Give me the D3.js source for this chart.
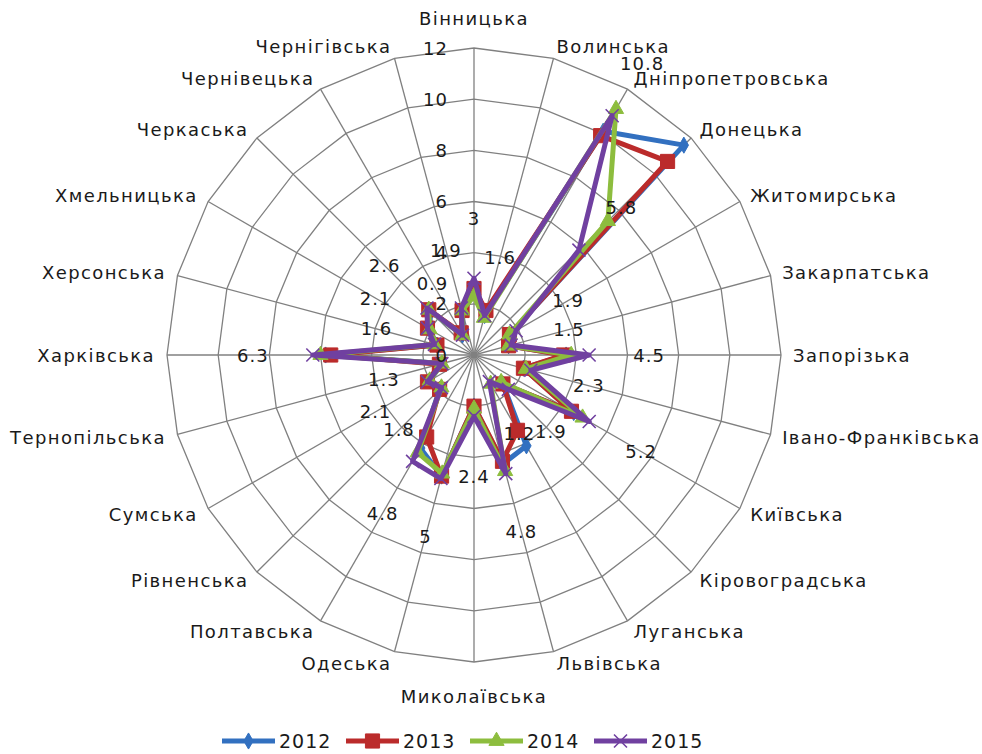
<!DOCTYPE html>
<html>
<head>
<meta charset="utf-8">
<script src="https://cdn.jsdelivr.net/npm/d3@7"></script>
<style>
  body { margin: 0; background: #fff; }
  text { font-family: "DejaVu Sans", sans-serif; fill: #1a1a1a; }
</style>
</head>
<body>
<div id="my_dataviz"></div>
<script>
// regions, clockwise from the top
var regions = ["Вінницька", "Волинська", "Дніпропетровська", "Донецька", "Житомирська",
  "Закарпатська", "Запорізька", "Івано-Франківська", "Київська", "Кіровоградська",
  "Луганська", "Львівська", "Миколаївська", "Одеська", "Полтавська", "Рівненська",
  "Сумська", "Тернопільська", "Харківська", "Херсонська", "Хмельницька", "Черкаська",
  "Чернівецька", "Чернігівська"];

var years = ["2012", "2013", "2014", "2015"];

var v2012 = [2.5, 1.6, 10.1, 11.6, 1.6, 1.4, 3.6, 2.0, 4.5, 1.6, 4.1, 4.4,
  2.0, 4.9, 4.2, 1.9, 2.0, 1.3, 5.8, 1.5, 2.0, 2.4, 0.9, 1.7];
var v2013 = [2.6, 1.8, 9.9, 10.7, 1.6, 1.4, 3.5, 2.0, 4.4, 1.6, 3.4, 4.3,
  2.0, 4.9, 3.7, 1.9, 2.1, 1.4, 5.6, 1.5, 2.1, 2.5, 1.0, 1.8];
var v2014 = [2.3, 1.5, 11.1, 7.4, 1.6, 1.4, 3.8, 2.1, 4.9, 1.5, 1.3, 4.7,
  2.1, 4.8, 4.4, 1.8, 2.0, 1.3, 6.0, 1.6, 2.0, 2.5, 0.9, 1.8];
var v2015 = [3, 1.6, 10.8, 5.8, 1.9, 1.5, 4.5, 2.3, 5.2, 1.9, 1.2, 4.8,
  2.4, 5, 4.8, 1.8, 2.1, 1.3, 6.3, 1.6, 2.1, 2.6, 0.9, 1.9];

var ticks = [0, 2, 4, 6, 8, 10, 12];

var series = [v2012, v2013, v2014, v2015];
var colors = ["#3270c0", "#bb2b2b", "#8dbd3e", "#7040a0"];
var markers = ["diamond", "square", "triangle", "cross"];

var width = 982, height = 754;
var cx = 474, cy = 355, R = 307;

var svg = d3.select("#my_dataviz")
  .append("svg")
  .attr("width", width)
  .attr("height", height);

var r = d3.scaleLinear().domain([0, 12]).range([0, R]);
var angle = d3.scaleLinear().domain([0, regions.length]).range([0, 2 * Math.PI]);

function px(i, rad) { return cx + rad * Math.sin(angle(i)); }
function py(i, rad) { return cy - rad * Math.cos(angle(i)); }

var g = svg.append("g");

// rings
ticks.filter(function (t) { return t > 0; }).forEach(function (t) {
  var pts = regions.map(function (d, i) { return [px(i, r(t)), py(i, r(t))]; });
  g.append("polygon")
    .attr("points", pts.map(function (p) { return p.join(","); }).join(" "))
    .attr("fill", "none")
    .attr("stroke", "#808080")
    .attr("stroke-width", 1.3);
});

// spokes
g.selectAll(".spoke")
  .data(regions)
  .enter()
  .append("line")
  .attr("class", "spoke")
  .attr("x1", cx).attr("y1", cy)
  .attr("x2", function (d, i) { return px(i, R); })
  .attr("y2", function (d, i) { return py(i, R); })
  .attr("stroke", "#808080")
  .attr("stroke-width", 1.3);

function markerPath(type) {
  if (type == "diamond") return d3.symbol().type(d3.symbolDiamond).size(75)();
  if (type == "square") return d3.symbol().type(d3.symbolSquare).size(200)();
  if (type == "triangle") return d3.symbol().type(d3.symbolTriangle).size(100)();
  return "M-6.5,-6.5L6.5,6.5M-6.5,6.5L6.5,-6.5";
}

var radial = d3.lineRadial()
  .angle(function (d, i) { return angle(i); })
  .radius(function (d) { return r(d); })
  .curve(d3.curveLinearClosed);

series.forEach(function (vals, s) {
  var sg = g.append("g").attr("transform", "translate(" + cx + "," + cy + ")");
  sg.append("path")
    .attr("d", radial(vals))
    .attr("fill", "none")
    .attr("stroke", colors[s])
    .attr("stroke-width", 5)
    .attr("stroke-linejoin", "round");
  sg.selectAll(".mk")
    .data(vals)
    .enter()
    .append("path")
    .attr("transform", function (d, i) {
      return "translate(" + (px(i, r(d)) - cx) + "," + (py(i, r(d)) - cy) + ")";
    })
    .attr("d", markerPath(markers[s]))
    .attr("fill", markers[s] == "cross" ? "none" : colors[s])
    .attr("stroke", colors[s])
    .attr("stroke-width", markers[s] == "cross" ? 1.6 : 1);
});

// radial axis tick labels
g.selectAll(".tick")
  .data(ticks)
  .enter()
  .append("text")
  .attr("x", cx - 26)
  .attr("y", function (d) { return cy - r(d); })
  .attr("text-anchor", "end")
  .attr("dominant-baseline", "central")
  .style("font-size", "18px")
  .style("letter-spacing", "1px")
  .text(function (d) { return d; });

// data labels (2015)
g.selectAll(".dlabel")
  .data(v2015)
  .enter()
  .append("text")
  .attr("x", function (d, i) { return px(i, r(d) + 60); })
  .attr("y", function (d, i) { return py(i, r(d) + 60); })
  .attr("text-anchor", "middle")
  .attr("dominant-baseline", "central")
  .style("font-size", "18px")
  .style("letter-spacing", "1px")
  .text(function (d) { return d; });

// category labels
g.selectAll(".cat")
  .data(regions)
  .enter()
  .append("text")
  .attr("x", function (d, i) { return px(i, R + 12); })
  .attr("y", function (d, i) {
    if (i == 0) return py(i, R + 30);
    if (i == 12) return py(i, R + 34);
    return py(i, R + 12);
  })
  .attr("text-anchor", function (d, i) {
    if (i == 0 || i == 12) return "middle";
    return i < 12 ? "start" : "end";
  })
  .attr("dominant-baseline", "central")
  .style("font-size", "18px")
  .style("letter-spacing", "1.4px")
  .text(function (d) { return d; });

// legend
var lx = d3.scaleLinear().domain([0, 1]).range([222, 346]);
var legend = svg.append("g");
years.forEach(function (y, s) {
  var x0 = lx(s);
  var ly = 741;
  legend.append("line")
    .attr("x1", x0).attr("x2", x0 + 53)
    .attr("y1", ly).attr("y2", ly)
    .attr("stroke", colors[s])
    .attr("stroke-width", 5);
  legend.append("path")
    .attr("transform", "translate(" + (x0 + 26.5) + "," + ly + ")")
    .attr("d", markerPath(markers[s]))
    .attr("fill", markers[s] == "cross" ? "none" : colors[s])
    .attr("stroke", colors[s])
    .attr("stroke-width", markers[s] == "cross" ? 1.6 : 1);
  legend.append("text")
    .attr("x", x0 + 57)
    .attr("y", ly)
    .attr("dominant-baseline", "central")
    .style("font-size", "19px")
    .style("letter-spacing", "1px")
    .text(y);
});
</script>
</body>
</html>
